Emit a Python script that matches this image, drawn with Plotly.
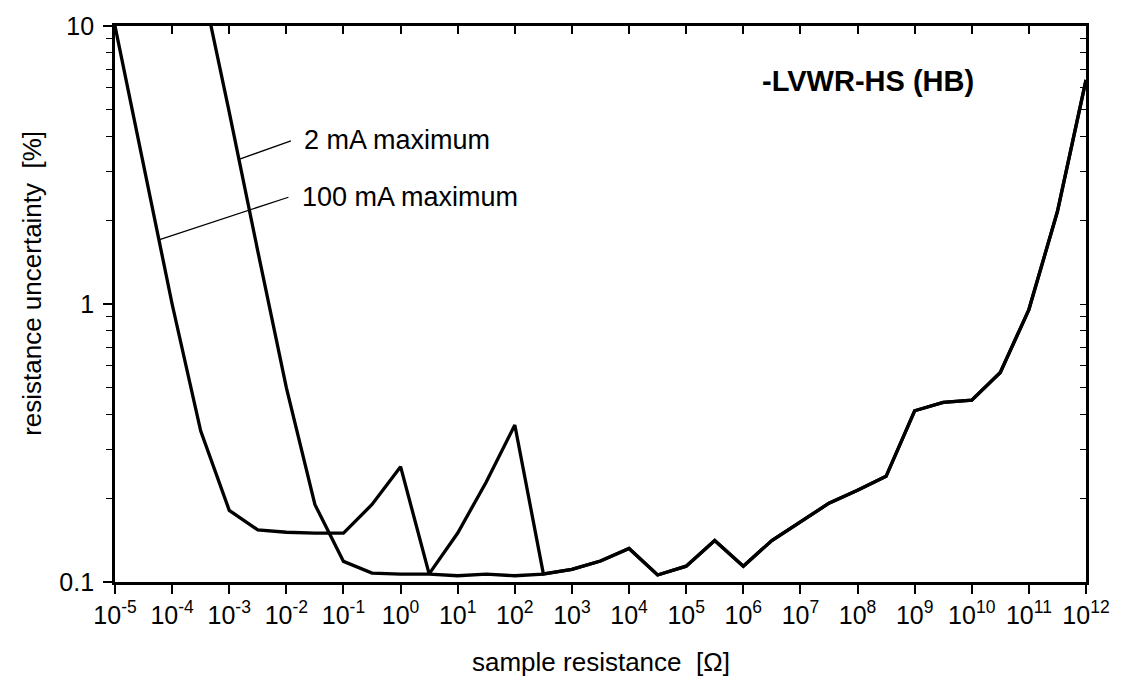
import numpy as np
import plotly.graph_objects as go

# ---- data ----
resistance_100mA = [1e-5, 3.16e-5, 1e-4, 3.16e-4, 1e-3, 3.16e-3, 1e-2, 3.16e-2, 1e-1, 3.16e-1,
                    1e0, 3.16e0, 1e1, 3.16e1, 1e2, 3.16e2]
uncert_100mA = [10.0, 3.15, 1.0, 0.35, 0.181, 0.154, 0.151, 0.150, 0.150, 0.19,
                0.26, 0.107, 0.150, 0.229, 0.367, 0.107]

resistance_2mA = [3.16e-4, 1e-3, 3.16e-3, 1e-2, 3.16e-2, 1e-1, 3.16e-1,
                  1e0, 3.16e0, 1e1, 3.16e1, 1e2, 3.16e2]
uncert_2mA = [15.0, 4.9, 1.55, 0.50, 0.19, 0.1186, 0.1077,
              0.1068, 0.1068, 0.1053, 0.1068, 0.1053, 0.1068]

resistance_common = [3.16e2, 1e3, 3.16e3, 1e4, 3.16e4, 1e5, 3.16e5, 1e6, 3.16e6, 1e7, 3.16e7,
                     1e8, 3.16e8, 1e9, 3.16e9, 1e10, 3.16e10, 1e11, 3.16e11, 1e12]
uncert_common = [0.1068, 0.111, 0.119, 0.132, 0.106, 0.114, 0.141, 0.114, 0.141, 0.164, 0.192,
                 0.214, 0.240, 0.413, 0.443, 0.451, 0.567, 0.955, 2.15, 6.4]

x_exponents = list(range(-5, 13))
x_tickvals = [10.0 ** e for e in x_exponents]
x_ticktext = ["10<sup>%d</sup>" % e for e in x_exponents]
y_tickvals = [0.1, 1, 10]
y_ticktext = ["0.1", "1", "10"]
y_minor = [0.2, 0.3, 0.4, 0.5, 0.6, 0.7, 0.8, 0.9, 2, 3, 4, 5, 6, 7, 8, 9]

label_2mA = "2 mA maximum"
label_100mA = "100 mA maximum"
title_text = "<b>-LVWR-HS (HB)</b>"
x_title = "sample resistance  [Ω]"
y_title = "resistance uncertainty  [%]"

FONT = "Liberation Sans, Arial, sans-serif"

# full series: low-range part + shared high-range part
x100 = resistance_100mA + resistance_common[1:]
y100 = uncert_100mA + uncert_common[1:]
x2 = resistance_2mA + resistance_common[1:]
y2 = uncert_2mA + uncert_common[1:]


def interp_loglog(xs, ys, xq):
    lx = np.log10(xs)
    ly = np.log10(ys)
    return 10 ** np.interp(np.log10(xq), lx, ly)


fig = go.Figure()
line_style = dict(color="black", width=3.3)
fig.add_trace(go.Scatter(x=x100, y=y100, mode="lines", line=line_style,
                         showlegend=False, hoverinfo="skip"))
fig.add_trace(go.Scatter(x=x2, y=y2, mode="lines", line=line_style,
                         showlegend=False, hoverinfo="skip"))
# empty trace to activate mirrored (top/right) axes
fig.add_trace(go.Scatter(x=[None], y=[None], xaxis="x2", yaxis="y2",
                         showlegend=False, hoverinfo="skip"))

# leader lines from curves to labels
lead_2_x0 = 10 ** -2.83
lead_2_x1 = 10 ** -1.92
lead_2_y0 = interp_loglog(x2, y2, lead_2_x0)
lead_2_y1 = 10 ** 0.587
lead_100_x0 = 10 ** -4.232
lead_100_x1 = 10 ** -1.964
lead_100_y0 = interp_loglog(x100, y100, lead_100_x0)
lead_100_y1 = 10 ** 0.384
for (xa, ya, xb, yb) in [(lead_2_x0, lead_2_y0, lead_2_x1, lead_2_y1),
                         (lead_100_x0, lead_100_y0, lead_100_x1, lead_100_y1)]:
    fig.add_shape(type="line", xref="x", yref="y", x0=xa, y0=ya, x1=xb, y1=yb,
                  line=dict(color="black", width=1.3))

axis_common = dict(type="log", showgrid=False, zeroline=False, showline=True,
                   linecolor="black", linewidth=2.8, tickcolor="black")

fig.update_layout(
    width=1122, height=680,
    margin=dict(l=115, r=27, t=24, b=98),
    paper_bgcolor="white", plot_bgcolor="white",
    font=dict(family=FONT, color="black", size=25),
    xaxis=dict(**axis_common, range=[-5, 12], tickmode="array",
               tickvals=x_tickvals, ticktext=x_ticktext, ticks="outside",
               ticklen=9, tickwidth=1.5, tickfont=dict(size=25)),
    yaxis=dict(**axis_common, range=[-1, 1], tickmode="array",
               tickvals=y_tickvals, ticktext=y_ticktext, ticks="outside",
               ticklen=9, tickwidth=1.5, tickfont=dict(size=25),
               ticklabelstandoff=4,
               minor=dict(tickmode="array", tickvals=y_minor, ticks="outside",
                          ticklen=6, tickwidth=1.3, tickcolor="black")),
    xaxis2=dict(**axis_common, range=[-5, 12], overlaying="x", side="top",
                anchor="y2", tickmode="array", tickvals=x_tickvals,
                ticks="inside", ticklen=8, tickwidth=1.5, showticklabels=False),
    yaxis2=dict(**axis_common, range=[-1, 1], overlaying="y", side="right",
                anchor="x2", tickmode="array", tickvals=y_tickvals,
                ticks="inside", ticklen=6, tickwidth=1.3, showticklabels=False,
                minor=dict(tickmode="array", tickvals=y_minor, ticks="inside",
                           ticklen=6, tickwidth=1.3, tickcolor="black")),
)

fig.add_annotation(text=title_text, xref="paper", yref="paper", x=(875 - 115) / 980,
                   y=1 - (79 - 24) / 558,
                   xanchor="center", yanchor="middle", showarrow=False,
                   font=dict(size=29, family=FONT, color="black"))
fig.add_annotation(text=label_2mA, xref="paper", yref="paper", x=0.1929, y=1 - (138 - 24) / 558,
                   xanchor="left", yanchor="middle", showarrow=False,
                   font=dict(size=27, family=FONT, color="black"))
fig.add_annotation(text=label_100mA, xref="paper", yref="paper", x=0.1905, y=1 - (196 - 24) / 558,
                   xanchor="left", yanchor="middle", showarrow=False,
                   font=dict(size=27, family=FONT, color="black"))
fig.add_annotation(text=x_title, xref="paper", yref="paper", x=(606 - 115) / 980,
                   y=1 - (662 - 24) / 558, xanchor="center", yanchor="middle",
                   showarrow=False, font=dict(size=26, family=FONT, color="black"))
fig.add_annotation(text=y_title, xref="paper", yref="paper", x=(31 - 115) / 980,
                   y=1 - (282 - 24) / 558, xanchor="center", yanchor="middle",
                   textangle=-90, showarrow=False,
                   font=dict(size=26, family=FONT, color="black"))

fig.write_html("out.html")
